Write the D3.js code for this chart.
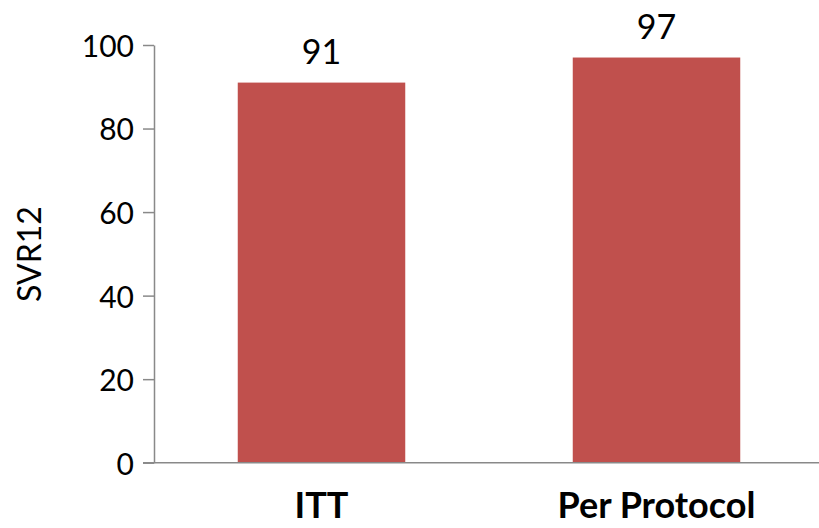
<!DOCTYPE html>
<html>
<head>
<meta charset="utf-8">
<script src="https://cdn.jsdelivr.net/npm/d3@7"></script>
<style>
  html, body { margin: 0; padding: 0; background: #fff; }
  svg { display: block; font-family: Lato, "Open Sans", sans-serif; }
</style>
</head>
<body>
<svg id="chart" width="819" height="528"></svg>
<script>
// SVR12 rates by analysis population
const categories = ["ITT", "Per Protocol"];
const values = [91, 97];
const yTicks = [0, 20, 40, 60, 80, 100];
const yLabel = "SVR12";

const svg = d3.select("#chart");
const axisColor = "#898989";
const barColor = "#C0504D";

const x = d3.scaleBand().domain(categories).range([154, 824]).paddingInner(0.5).paddingOuter(0.25);
const y = d3.scaleLinear().domain([0, 100]).range([462.7, 45]);

// bars
svg.append("g").selectAll("rect")
  .data(categories)
  .join("rect")
  .attr("x", d => x(d))
  .attr("width", x.bandwidth())
  .attr("y", (d, i) => y(values[i]))
  .attr("height", (d, i) => y(0) - y(values[i]))
  .attr("fill", barColor);

// value labels
svg.append("g").selectAll("text")
  .data(categories)
  .join("text")
  .attr("x", d => x(d) + x.bandwidth() / 2)
  .attr("y", (d, i) => y(values[i]) - 19)
  .attr("text-anchor", "middle")
  .attr("font-size", 34)
  .attr("fill", "#000")
  .text((d, i) => values[i]);

// y axis
const yAxis = svg.append("g")
  .attr("transform", "translate(154,0)")
  .call(d3.axisLeft(y).tickValues(yTicks).tickSize(11).tickPadding(9).tickSizeOuter(0));
yAxis.select(".domain").attr("stroke", axisColor).attr("stroke-width", 1.5);
yAxis.selectAll(".tick line").attr("stroke", axisColor).attr("stroke-width", 1.5);
yAxis.selectAll(".tick text")
  .attr("font-size", 30)
  .attr("font-family", "Lato, 'Open Sans', sans-serif")
  .attr("fill", "#000")
  .attr("dy", "0.38em");

// baseline
svg.append("line")
  .attr("x1", 143).attr("x2", 819)
  .attr("y1", y(0)).attr("y2", y(0))
  .attr("stroke", axisColor).attr("stroke-width", 1.5);

// category labels
svg.append("g").selectAll("text")
  .data(categories)
  .join("text")
  .attr("x", d => x(d) + x.bandwidth() / 2)
  .attr("y", 518)
  .attr("text-anchor", "middle")
  .attr("font-size", 36)
  .attr("font-weight", "bold")
  .attr("fill", "#000")
  .text(d => d);

// y axis title
svg.append("text")
  .attr("transform", "translate(41,254) rotate(-90)")
  .attr("text-anchor", "middle")
  .attr("font-size", 32)
  .attr("fill", "#000")
  .text(yLabel);
</script>
</body>
</html>
